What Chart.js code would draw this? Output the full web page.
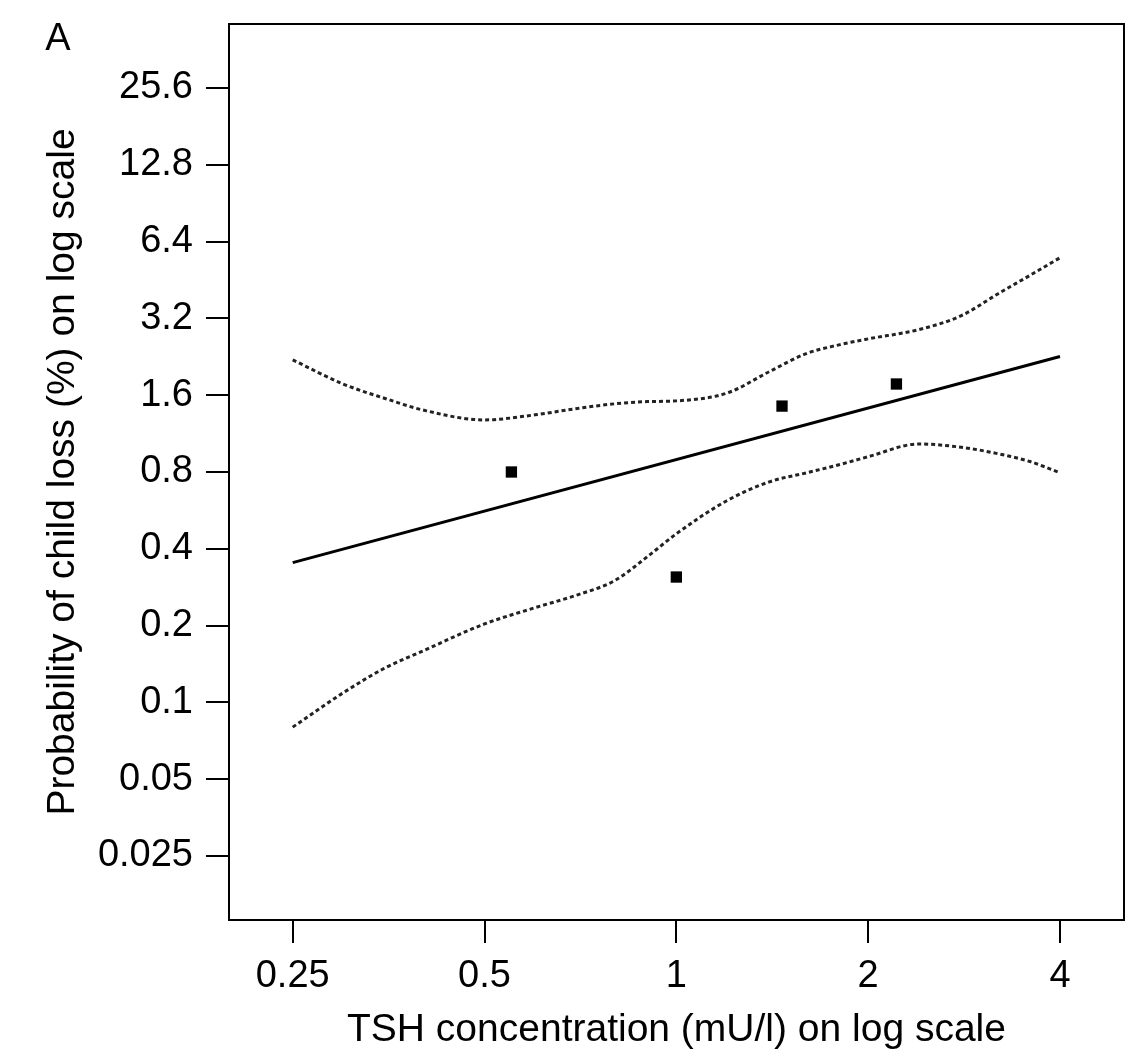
<!DOCTYPE html>
<html>
<head>
<meta charset="utf-8">
<script src="https://cdn.jsdelivr.net/npm/chart.js@4/dist/chart.umd.min.js"></script>
<style>
  html, body { margin: 0; padding: 0; background: #fff; }
  #wrap { width: 1126px; height: 1059px; position: relative; }
</style>
</head>
<body>
<div id="wrap"><canvas id="c"></canvas></div>
<script>
// ---- data ----
const panelLabel = 'A';
const xTitle = 'TSH concentration (mU/l) on log scale';
const yTitle = 'Probability of child loss (%) on log scale';

const xTickValues = [0.25, 0.5, 1, 2, 4];
const xTickLabels = ['0.25', '0.5', '1', '2', '4'];
const yTickValues = [0.025, 0.05, 0.1, 0.2, 0.4, 0.8, 1.6, 3.2, 6.4, 12.8, 25.6];
const yTickLabels = ['0.025', '0.05', '0.1', '0.2', '0.4', '0.8', '1.6', '3.2', '6.4', '12.8', '25.6'];

// observed group points
const obsTSH  = [0.551, 1.0, 1.465, 2.215];
const obsProb = [0.80, 0.31, 1.45, 1.77];

// fitted line (straight on log-log)
const fitTSH  = [0.25, 4];
const fitProb = [0.353, 2.27];

// confidence band
const ciTSH   = [0.25, 0.3, 0.35, 0.4, 0.5, 0.6, 0.7, 0.8, 0.9, 1.0, 1.2, 1.4, 1.6, 1.8, 2.0, 2.4, 2.8, 3.2, 3.6, 4.0];
const ciUpper = [2.20, 1.77, 1.55, 1.40, 1.28, 1.34, 1.42, 1.48, 1.51, 1.52, 1.63, 1.98, 2.33, 2.52, 2.66, 2.89, 3.28, 4.00, 4.74, 5.53];
const ciLower = [0.080, 0.109, 0.137, 0.159, 0.203, 0.235, 0.264, 0.300, 0.372, 0.458, 0.617, 0.732, 0.794, 0.854, 0.918, 1.03, 1.00, 0.943, 0.877, 0.794];

// axis ranges
const xMin = 0.1986, xMax = 5.041;
const yMin = 0.01403, yMax = 45.61;

// ---- build ----
const FONT = '"Liberation Sans", Arial, Helvetica, sans-serif';
const zip = (xs, ys) => xs.map((x, i) => ({ x: x, y: ys[i] }));

const boxPlugin = {
  id: 'boxAndLabel',
  afterDraw(chart) {
    const { ctx, chartArea: a } = chart;
    ctx.save();
    ctx.strokeStyle = '#000';
    ctx.lineWidth = 2;
    ctx.strokeRect(a.left, a.top, a.right - a.left, a.bottom - a.top);
    ctx.fillStyle = '#000';
    ctx.font = '38px ' + FONT;
    ctx.textAlign = 'center';
    ctx.textBaseline = 'middle';
    ctx.fillText(panelLabel, 58, 40);
    ctx.restore();
  }
};

new Chart(document.getElementById('c'), {
  type: 'line',
  data: {
    datasets: [
      {
        type: 'scatter',
        data: zip(obsTSH, obsProb),
        pointStyle: 'rect',
        pointRadius: 8,
        pointBackgroundColor: '#000',
        pointBorderWidth: 0,
        order: 0
      },
      {
        data: zip(fitTSH, fitProb),
        borderColor: '#000',
        borderWidth: 3,
        pointRadius: 0,
        tension: 0,
        order: 1
      },
      {
        data: zip(ciTSH, ciUpper),
        borderColor: '#222',
        borderWidth: 3,
        borderDash: [4, 3],
        pointRadius: 0,
        cubicInterpolationMode: 'monotone',
        order: 2
      },
      {
        data: zip(ciTSH, ciLower),
        borderColor: '#222',
        borderWidth: 3,
        borderDash: [4, 3],
        pointRadius: 0,
        cubicInterpolationMode: 'monotone',
        order: 2
      }
    ]
  },
  options: {
    responsive: true,
    maintainAspectRatio: false,
    animation: false,
    layout: { autoPadding: false, padding: { top: 24, right: 2, left: 0, bottom: 0 } },
    plugins: { legend: { display: false }, tooltip: { enabled: false } },
    scales: {
      x: {
        type: 'logarithmic',
        position: 'bottom',
        min: xMin, max: xMax,
        afterBuildTicks: s => { s.ticks = xTickValues.map(v => ({ value: v })); },
        afterFit: s => { s.height = 139; s.paddingLeft = 0; s.paddingRight = 0; },
        ticks: {
          autoSkip: false, maxRotation: 0,
          padding: 11,
          color: '#000',
          font: { family: FONT, size: 38 },
          callback: v => { const i = xTickValues.indexOf(v); return i >= 0 ? xTickLabels[i] : ''; }
        },
        grid: { drawOnChartArea: false, drawTicks: true, tickLength: 23, color: '#000', lineWidth: 2 },
        border: { display: true, color: '#000', width: 2 },
        title: { display: true, text: xTitle, color: '#000', font: { family: FONT, size: 39 }, padding: { top: 0, bottom: 5 } }
      },
      y: {
        type: 'logarithmic',
        position: 'left',
        min: yMin, max: yMax,
        afterBuildTicks: s => { s.ticks = yTickValues.map(v => ({ value: v })); },
        afterFit: s => { s.width = 229; s.paddingTop = 0; s.paddingBottom = 0; },
        ticks: {
          autoSkip: false,
          padding: 13,
          color: '#000',
          font: { family: FONT, size: 38 },
          callback: v => { const i = yTickValues.indexOf(v); return i >= 0 ? yTickLabels[i] : ''; }
        },
        grid: { drawOnChartArea: false, drawTicks: true, tickLength: 23, color: '#000', lineWidth: 2 },
        border: { display: true, color: '#000', width: 2 },
        title: { display: true, text: yTitle, color: '#000', font: { family: FONT, size: 39 }, padding: { top: 40, bottom: 0 } }
      }
    }
  },
  plugins: [boxPlugin]
});
</script>
</body>
</html>
